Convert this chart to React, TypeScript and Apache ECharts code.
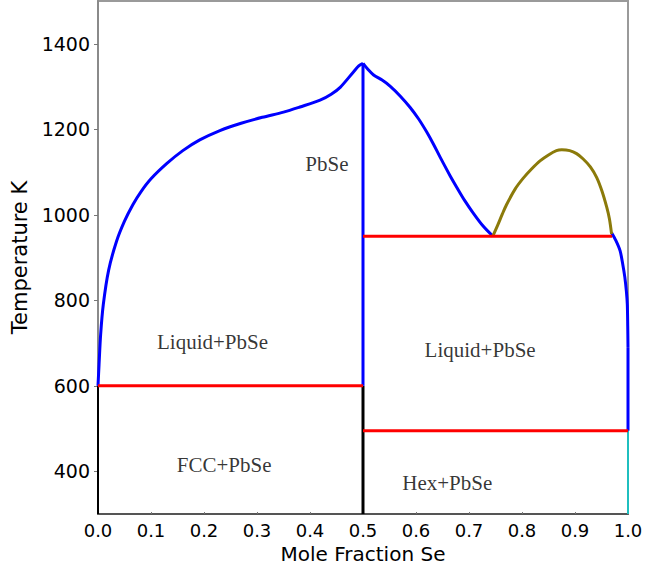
import React, { useEffect, useRef } from "react";
import * as echarts from "echarts";

// Pb–Se binary phase diagram: composition (mole fraction Se) vs temperature (K)

const xTicks = [0, 0.1, 0.2, 0.3, 0.4, 0.5, 0.6, 0.7, 0.8, 0.9, 1.0];
const yTicks = [400, 600, 800, 1000, 1200, 1400];

// Pb-rich liquidus up to the PbSe congruent melting point
const pbLiquidus: [number, number][] = [
  [0, 600], [0.002, 650], [0.005, 720], [0.01, 790], [0.02, 870],
  [0.035, 938], [0.05, 985], [0.066, 1024], [0.08, 1052], [0.1, 1084],
  [0.13, 1120], [0.16, 1150], [0.192, 1175], [0.23, 1197], [0.27, 1214],
  [0.31, 1228], [0.35, 1240], [0.381, 1252], [0.419, 1268], [0.44, 1282],
  [0.457, 1298], [0.482, 1334], [0.492, 1348], [0.5, 1354],
];

// PbSe compound line
const pbseLine: [number, number][] = [[0.5, 1354], [0.5, 600]];

// Se-rich liquidus from the PbSe maximum down to the monotectic point
const seLiquidus: [number, number][] = [
  [0.5, 1354], [0.508, 1342], [0.52, 1327], [0.536, 1315], [0.551, 1301],
  [0.57, 1278], [0.589, 1251], [0.605, 1224], [0.62, 1194], [0.633, 1165],
  [0.645, 1136], [0.664, 1092], [0.677, 1064], [0.692, 1033], [0.708, 1004],
  [0.727, 973], [0.745, 950],
];

// Liquid miscibility gap
const miscibilityGap: [number, number][] = [
  [0.745, 950], [0.755, 978], [0.763, 1002], [0.771, 1024], [0.787, 1060],
  [0.802, 1085], [0.818, 1107], [0.834, 1126], [0.85, 1140], [0.865, 1150],
  [0.875, 1152], [0.89, 1150], [0.903, 1143], [0.915, 1131], [0.929, 1112],
  [0.941, 1087], [0.951, 1055], [0.96, 1017], [0.965, 990], [0.969, 955],
];

// Liquidus on the Se side down to the Se melting point
const seEndLiquidus: [number, number][] = [
  [0.969, 958], [0.977, 940], [0.985, 916], [0.99, 885], [0.994, 854],
  [0.997, 820], [0.9987, 790], [0.9995, 740], [1.0, 690],
];
const seEndLine: [number, number][] = [[1.0, 690], [1.0, 495]];

// Invariant (three-phase) temperatures
const eutecticPb: [number, number][] = [[0, 600], [0.5, 600]];
const monotectic: [number, number][] = [[0.5, 950], [0.97, 950]];
const eutecticSe: [number, number][] = [[0.5, 495], [1.0, 495]];

// Solid phase lines
const pbSolid: [number, number][] = [[0, 300], [0, 600]];
const pbseSolid: [number, number][] = [[0.5, 300], [0.5, 600]];
const seSolid: [number, number][] = [[1.0, 300], [1.0, 495]];

// Phase-field labels
const regionNames = ["PbSe", "Liquid+PbSe", "Liquid+PbSe", "FCC+PbSe", "Hex+PbSe"];
const regionX = [0.432, 0.216, 0.721, 0.238, 0.659];
const regionT = [1119, 702, 683, 414, 372];

const lineSeries = (data: [number, number][], color: string, width = 3, smooth: any = false) => ({
  type: "line",
  data,
  showSymbol: false,
  symbol: "none",
  smooth,
  lineStyle: { color, width },
  silent: true,
  z: 3,
});

export default function App() {
  const ref = useRef<HTMLDivElement>(null);

  useEffect(() => {
    if (!ref.current) return;
    const chart = echarts.init(ref.current, undefined, { renderer: "svg" });
    const axisFont = "DejaVu Sans";
    chart.setOption({
      animation: false,
      backgroundColor: "#ffffff",
      grid: {
        left: 98,
        right: 29,
        top: 1,
        bottom: 63,
        show: true,
        borderColor: "#9a9a9a",
        borderWidth: 2,
        backgroundColor: "transparent",
      },
      xAxis: {
        type: "value",
        min: 0,
        max: 1,
        interval: 0.1,
        name: "Mole Fraction Se",
        nameLocation: "middle",
        nameGap: 26,
        nameTextStyle: { fontFamily: axisFont, fontSize: 20, color: "#000" },
        axisLine: { show: true, lineStyle: { color: "#555", width: 2 } },
        axisTick: { show: true, inside: true, length: 2, lineStyle: { color: "#777" } },
        axisLabel: {
          fontFamily: axisFont,
          fontSize: 18,
          color: "#000",
          margin: 7,
          formatter: (v: number) => v.toFixed(1),
          customValues: xTicks,
        },
        splitLine: { show: false },
      },
      yAxis: {
        type: "value",
        min: 300,
        max: 1500,
        name: "Temperature K",
        nameLocation: "middle",
        nameGap: 62,
        nameTextStyle: { fontFamily: axisFont, fontSize: 21, color: "#000" },
        axisLine: { show: true, lineStyle: { color: "#8a8a8a", width: 2 } },
        axisTick: {
          show: true,
          length: 4,
          lineStyle: { color: "#777" },
          customValues: yTicks,
        },
        axisLabel: {
          fontFamily: axisFont,
          fontSize: 19,
          color: "#000",
          margin: 8,
          formatter: (v: number) => String(v),
          customValues: yTicks,
        },
        splitLine: { show: false },
      },
      series: [
        lineSeries(pbSolid, "#000000", 2),
        lineSeries(pbseSolid, "#000000", 3),
        lineSeries(seSolid, "#1fbfbf", 2),
        lineSeries(pbLiquidus, "#0000ff", 3, 0.3),
        lineSeries(pbseLine, "#0000ff"),
        lineSeries(seLiquidus, "#0000ff", 3, 0.3),
        lineSeries(seEndLiquidus, "#0000ff", 3, 0.3),
        lineSeries(seEndLine, "#0000ff"),
        lineSeries(miscibilityGap, "#8b7a0a", 3, 0.3),
        lineSeries(eutecticPb, "#ff0000"),
        lineSeries(monotectic, "#ff0000"),
        lineSeries(eutecticSe, "#ff0000"),
        {
          type: "scatter",
          symbolSize: 0,
          silent: true,
          z: 5,
          data: regionNames.map((name, i) => ({ name, value: [regionX[i], regionT[i]] })),
          label: {
            show: true,
            position: "inside",
            formatter: (p: any) => p.name,
            fontFamily: "Liberation Serif",
            fontSize: 21,
            color: "#000",
          },
        },
      ],
    });
    return () => chart.dispose();
  }, []);

  return <div ref={ref} style={{ width: 657, height: 577, position: "absolute", left: 0, top: 0 }} />;
}
